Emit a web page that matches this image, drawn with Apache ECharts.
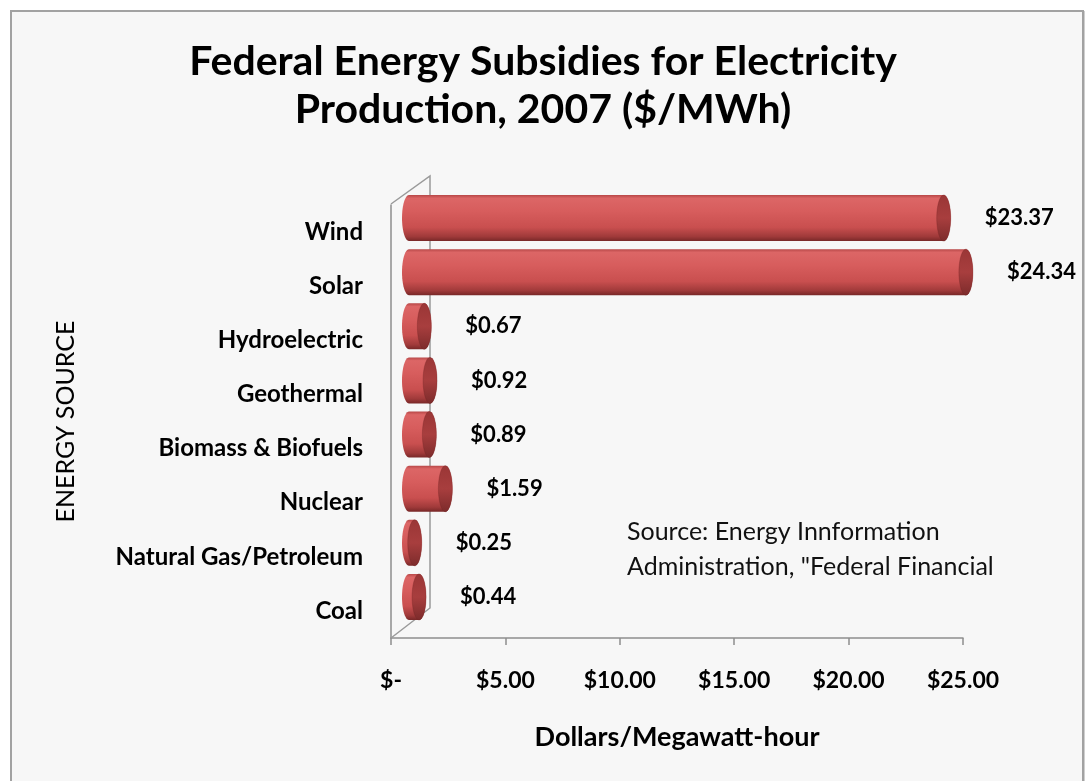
<!DOCTYPE html>
<html>
<head>
<meta charset="utf-8">
<script src="https://cdn.jsdelivr.net/npm/echarts@6/dist/echarts.min.js"></script>
<style>
  html, body { margin: 0; padding: 0; background: #ffffff; }
  #frame { position: absolute; left: 10px; top: 10px; width: 1070px; height: 800px;
           border: 2px solid #a2a2a2; background: #f7f7f7; box-shadow: 1px 1px 0 #cfcfcf; }
  #chart { position: absolute; left: 0; top: 0; width: 1086px; height: 781px; }
</style>
</head>
<body>
<div id="frame"></div>
<div id="chart"></div>
<script>
// ---- data ----
const categories = ['Wind', 'Solar', 'Hydroelectric', 'Geothermal', 'Biomass & Biofuels',
                    'Nuclear', 'Natural Gas/Petroleum', 'Coal'];
const subsidies = [23.37, 24.34, 0.67, 0.92, 0.89, 1.59, 0.25, 0.44];
const xTicks = [0, 5, 10, 15, 20, 25];
const titleText = 'Federal Energy Subsidies for Electricity\nProduction, 2007 ($/MWh)';
const sourceText = 'Source: Energy Innformation\nAdministration, "Federal Financial';

const FONT = 'Lato, "Open Sans", "Noto Sans", sans-serif';

function ellipsePts(cx, cy, rx, ry, a0, a1, n) {
  const pts = [];
  for (let i = 0; i <= n; i++) {
    const a = a0 + (a1 - a0) * i / n;
    pts.push([cx + rx * Math.cos(a), cy + ry * Math.sin(a)]);
  }
  return pts;
}

const bodyFill = {
  type: 'linear', x: 0, y: 0, x2: 0, y2: 1,
  colorStops: [
    { offset: 0, color: '#b84848' },
    { offset: 0.07, color: '#dc6666' },
    { offset: 0.35, color: '#d75d5d' },
    { offset: 0.7, color: '#c94f4f' },
    { offset: 0.9, color: '#a03a3a' },
    { offset: 1, color: '#782828' }
  ]
};
const capFill = {
  type: 'linear', x: 0, y: 0, x2: 0, y2: 1,
  colorStops: [
    { offset: 0, color: '#9a3636' },
    { offset: 0.5, color: '#a83e3e' },
    { offset: 1, color: '#7c2b2b' }
  ]
};

const chart = echarts.init(document.getElementById('chart'), null, { renderer: 'canvas' });

const option = {
  animation: false,
  backgroundColor: 'transparent',
  title: [
    {
      text: titleText, left: 'center', top: 38, padding: 0,
      textStyle: { fontFamily: FONT, fontWeight: 'bold', fontSize: 41, lineHeight: 48, color: '#000' }
    },
    {
      text: sourceText, left: 627, top: 514, padding: 0,
      textStyle: { fontFamily: FONT, fontWeight: 'normal', fontSize: 25, lineHeight: 35, color: '#111' }
    }
  ],
  grid: { left: 391, right: 123, top: 205, bottom: 143, containLabel: false },
  xAxis: {
    type: 'value', min: 0, max: 25, interval: 5,
    axisLine: { show: true, lineStyle: { color: '#8e8e8e', width: 1.5 } },
    axisTick: { show: true, length: 7, lineStyle: { color: '#8e8e8e', width: 1.5 } },
    splitLine: { show: false },
    axisLabel: {
      margin: 31, fontFamily: FONT, fontWeight: 'bold', fontSize: 23, color: '#000',
      formatter: v => (v === 0 ? '$-' : '$' + v.toFixed(2))
    },
    name: 'Dollars/Megawatt-hour', nameLocation: 'middle', nameGap: 86, nameMoveOverlap: false,
    nameTextStyle: { fontFamily: FONT, fontWeight: 'bold', fontSize: 27, color: '#000' }
  },
  yAxis: {
    type: 'category', data: categories, inverse: true,
    axisLine: { show: true, lineStyle: { color: '#8e8e8e', width: 1.5 } },
    axisTick: { show: false },
    splitLine: { show: false },
    axisLabel: { margin: 28, fontFamily: FONT, fontWeight: 'bold', fontSize: 24, color: '#000' },
    name: 'ENERGY SOURCE', nameLocation: 'middle', nameGap: 313, nameRotate: 90, nameMoveOverlap: false,
    nameTextStyle: { fontFamily: FONT, fontWeight: 'normal', fontSize: 25, color: '#000' }
  },
  series: [{
    type: 'custom',
    coordinateSystem: 'cartesian2d',
    encode: { x: 0, y: 1 },
    data: subsidies.map((v, i) => [v, i]),
    renderItem: function (params, api) {
      const v = api.value(0), cat = api.value(1);
      const p0 = api.coord([0, cat]);
      const p1 = api.coord([v, cat]);
      const dx = 18, dy = -14, rx = 7, ry = 23;
      const x0 = p0[0] + dx, x1 = p1[0] + dx, cy = p0[1] + dy;
      const children = [];
      if (params.dataIndex === 0) {
        const cs = params.coordSys;
        children.push({
          type: 'polyline', silent: true,
          shape: { points: [[cs.x, cs.y - 1], [cs.x + 39, cs.y - 29], [cs.x + 39, cs.y + cs.height - 30], [cs.x, cs.y + cs.height]] },
          style: { stroke: '#9a9a9a', lineWidth: 1.5, fill: null }
        });
      }
      const body = []
        .concat(ellipsePts(x1, cy, rx, ry, -Math.PI / 2, Math.PI / 2, 24))
        .concat(ellipsePts(x0, cy, rx, ry, Math.PI / 2, 3 * Math.PI / 2, 24));
      children.push({ type: 'polygon', shape: { points: body }, style: { fill: bodyFill } });
      children.push({
        type: 'polygon',
        shape: { points: ellipsePts(x1, cy, rx, ry, 0, 2 * Math.PI, 48) },
        style: { fill: capFill, stroke: 'rgba(110,35,35,0.5)', lineWidth: 0.6 }
      });
      children.push({
        type: 'text',
        style: {
          text: '$' + v.toFixed(2), x: x1 + rx + 34, y: cy,
          align: 'left', verticalAlign: 'middle',
          textAlign: 'left', textVerticalAlign: 'middle',
          fill: '#000', font: 'bold 22px ' + FONT
        }
      });
      return { type: 'group', children: children };
    }
  }]
};
chart.setOption(option);
</script>
</body>
</html>
